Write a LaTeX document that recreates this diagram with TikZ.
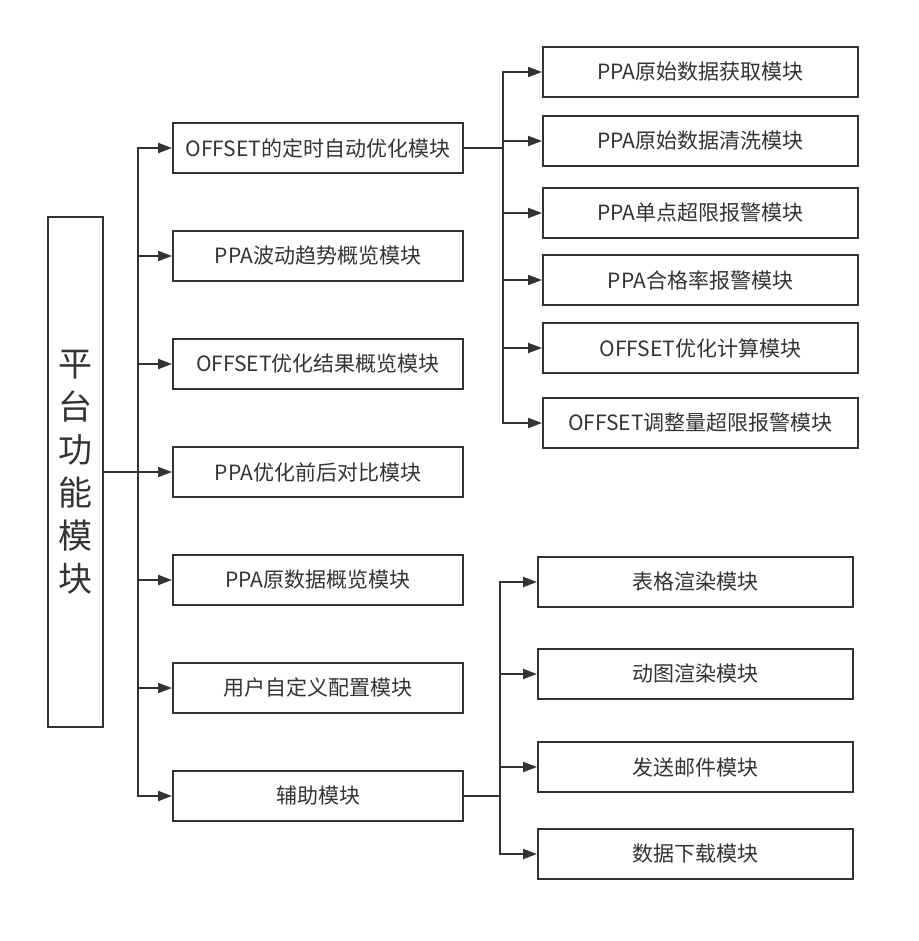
\documentclass[tikz,border=0pt]{standalone}
\usepackage{fontspec}
\setmainfont{Noto Sans CJK SC}
\usepackage{tikz}
\usetikzlibrary{arrows.meta, positioning}
\definecolor{linegray}{HTML}{333333}
\tikzstyle{root2} = [rectangle, minimum width=41.25pt, minimum height=382.5pt, inner sep=0pt, align=center, draw=linegray, line width=1.5pt, text=linegray, font=\fontsize{25.5}{32.25}\selectfont]
\tikzstyle{module2} = [rectangle, minimum width=217.5pt, minimum height=37.5pt, align=center, draw=linegray, line width=1.5pt, text=linegray, font=\fontsize{15.75}{19}\selectfont]
\tikzstyle{sub2} = [module2, minimum width=236.25pt]
\tikzstyle{line2} = [line width=1.5pt, draw=linegray]
\tikzstyle{arrow2} = [line width=1.5pt, draw=linegray, -{Triangle[length=10.5pt,width=7.5pt]}]

\begin{document}
\begin{tikzpicture}[x=0.75pt, y=-0.75pt]
            \useasboundingbox (0,0) rectangle (919,941);
            % Nodes
            \node (root) [root2] at (75.5,472) {平\\台\\功\\能\\模\\块};

            \node (m1) [module2] at (318,148) {OFFSET的定时自动优化模块};
            \node (m2) [module2, below of=m1, node distance=81pt] {PPA波动趋势概览模块};
            \node (m3) [module2, below of=m2, node distance=81pt] {OFFSET优化结果概览模块};
            \node (m4) [module2, below of=m3, node distance=81pt] {PPA优化前后对比模块};
            \node (m5) [module2, below of=m4, node distance=81pt] {PPA原数据概览模块};
            \node (m6) [module2, below of=m5, node distance=81pt] {用户自定义配置模块};
            \node (m7) [module2, below of=m6, node distance=81pt] {辅助模块};

            \node (s1) [sub2] at (700.5,72) {PPA原始数据获取模块};
            \node (s2) [sub2, below of=s1, node distance=51.75pt] {PPA原始数据清洗模块};
            \node (s3) [sub2, below of=s2, node distance=54pt] {PPA单点超限报警模块};
            \node (s4) [sub2, below of=s3, node distance=50.25pt] {PPA合格率报警模块};
            \node (s5) [sub2, below of=s4, node distance=51pt] {OFFSET优化计算模块};
            \node (s6) [sub2, below of=s5, node distance=56.25pt] {OFFSET调整量超限报警模块};

            \node (t1) [sub2] at (695.5,582) {表格渲染模块};
            \node (t2) [sub2, below of=t1, node distance=69pt] {动图渲染模块};
            \node (t3) [sub2, below of=t2, node distance=69.75pt] {发送邮件模块};
            \node (t4) [sub2, below of=t3, node distance=65.25pt] {数据下载模块};

            \coordinate (trunk) at (138,472);
            \coordinate (fork1) at (503,148);
            \coordinate (fork2) at (500,796);

            % Edges
            \draw [line2] (root) -- (trunk);
            \foreach \n in {m1,m2,m3,m4,m5,m6,m7}
                \draw [arrow2] (trunk) |- (\n);
            \draw [line2] (m1) -- (fork1);
            \foreach \n in {s1,s2,s3,s4,s5,s6}
                \draw [arrow2] (fork1) |- (\n);
            \draw [line2] (m7) -- (fork2);
            \foreach \n in {t1,t2,t3,t4}
                \draw [arrow2] (fork2) |- (\n);
        \end{tikzpicture}
\end{document}
